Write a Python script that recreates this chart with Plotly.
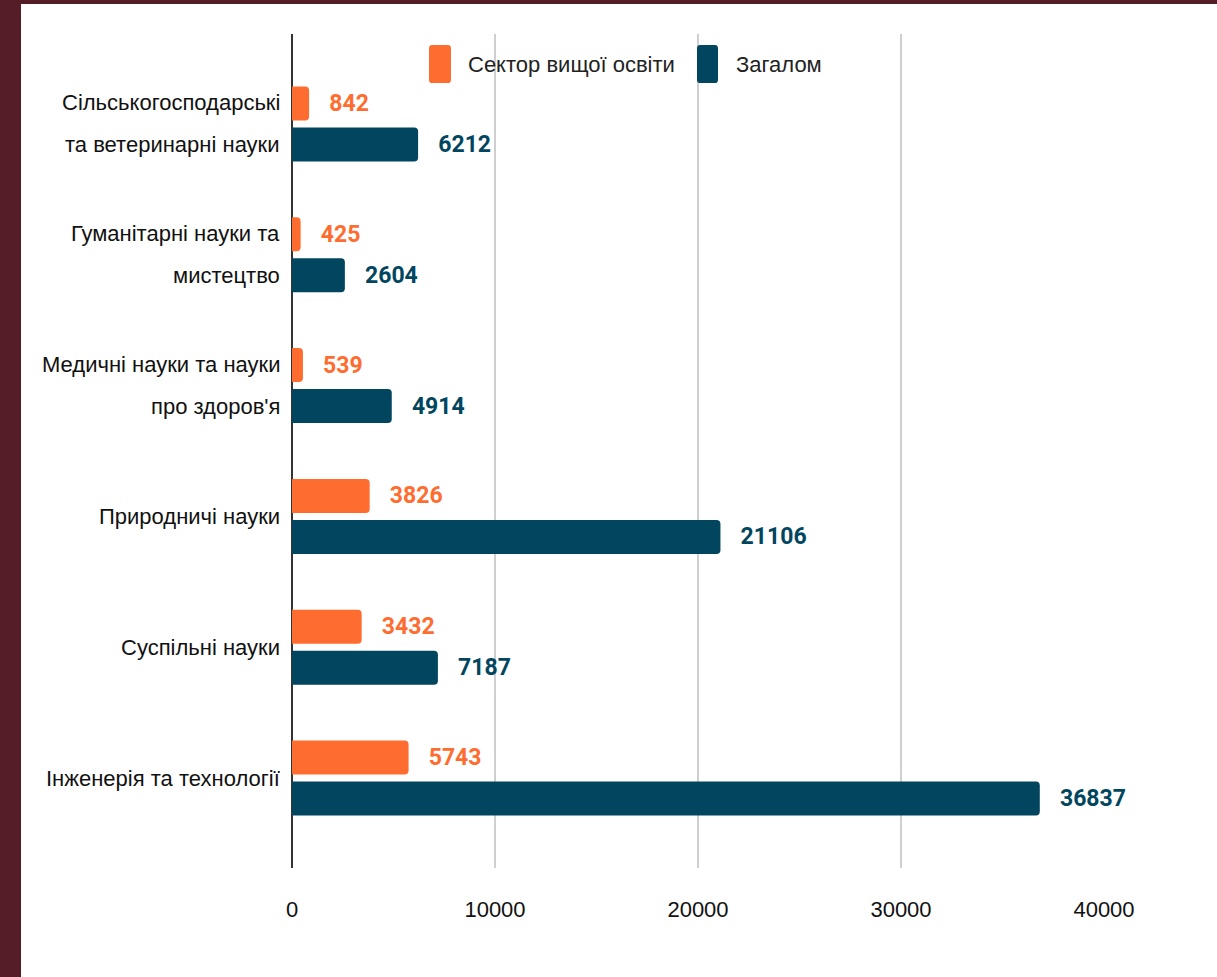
import plotly.graph_objects as go

categories = [
    "Сільськогосподарські<br>та ветеринарні науки",
    "Гуманітарні науки та<br>мистецтво",
    "Медичні науки та науки<br>про здоров'я",
    "Природничі науки",
    "Суспільні науки",
    "Інженерія та технології",
]
series_names = ["Сектор вищої освіти", "Загалом"]
higher_ed = [842, 425, 539, 3826, 3432, 5743]
total = [6212, 2604, 4914, 21106, 7187, 36837]
x_ticks = [0, 10000, 20000, 30000, 40000]

ORANGE = "#FF6C2F"
NAVY = "#01465E"
FONT = "Liberation Sans, Arial, sans-serif"
VFONT = "Roboto, Liberation Sans, sans-serif"

W, H = 1217, 977
L, R, T, B = 292, 1104, 34, 868
pw, ph = R - L, B - T
LINE_GAP = 42

def px(xp):
    return (xp - L) / pw

def py(yp):
    return (B - yp) / ph

fig = go.Figure()
for name, vals, col in [(series_names[0], higher_ed, ORANGE), (series_names[1], total, NAVY)]:
    fig.add_trace(go.Bar(
        y=categories, x=vals, orientation="h", name=name,
        marker=dict(color=col, line=dict(width=0)),
        text=[str(v) for v in vals], texttemplate="\u00a0\u00a0\u00a0%{text}", textposition="outside",
        textfont=dict(family=VFONT, size=23, color=col, weight="bold"),
        cliponaxis=False, showlegend=False,
    ))

shapes = [
    dict(type="rect", xref="paper", yref="paper", x0=px(21), x1=px(1217 + 5),
         y0=py(977 + 5), y1=py(4), fillcolor="white", line=dict(width=0), layer="below"),
]
annotations = []
legend_items = [(series_names[0], ORANGE, 429, 451, 466), (series_names[1], NAVY, 697, 718, 734)]
for name, col, s0, s1, tx in legend_items:
    shapes.append(dict(type="path", xref="paper", yref="paper",
                       path=(f"M {px(s0)},{py(83)+0.004} L {px(s0)},{py(45)-0.004} "
                             f"Q {px(s0)},{py(45)} {px(s0)+0.004},{py(45)} L {px(s1)-0.004},{py(45)} "
                             f"Q {px(s1)},{py(45)} {px(s1)},{py(45)-0.004} L {px(s1)},{py(83)+0.004} "
                             f"Q {px(s1)},{py(83)} {px(s1)-0.004},{py(83)} L {px(s0)+0.004},{py(83)} "
                             f"Q {px(s0)},{py(83)} {px(s0)},{py(83)+0.004} Z"),
                       fillcolor=col, line=dict(width=0)))
    annotations.append(dict(text=name, xref="paper", yref="paper", x=px(tx), y=py(64),
                            xanchor="left", yanchor="middle", showarrow=False,
                            font=dict(family=FONT, size=22, color="#222222")))

# category labels as separate lines (wider line spacing than tick labels allow)
for cat in categories:
    lines = cat.split("<br>")
    n = len(lines)
    for i, line in enumerate(lines):
        annotations.append(dict(text=line, xref="paper", yref="y", x=px(282), y=cat,
                                yshift=-(i - (n - 1) / 2) * LINE_GAP,
                                xanchor="right", yanchor="middle", showarrow=False,
                                font=dict(family=FONT, size=22, color="#111111")))

fig.update_layout(
    width=W, height=H,
    margin=dict(l=L, r=W - R, t=T, b=H - B, pad=0),
    paper_bgcolor="#541d27", plot_bgcolor="rgba(0,0,0,0)",
    barmode="group", bargap=0.373, bargroupgap=0.17, barcornerradius=4,
    shapes=shapes, annotations=annotations,
    xaxis=dict(range=[0, 40000], tickvals=x_ticks, ticktext=[str(v) for v in x_ticks],
               showgrid=True, gridcolor="#cfcfcf", gridwidth=1.5,
               zeroline=True, zerolinecolor="#333333", zerolinewidth=1.5,
               ticks="outside", ticklen=22, tickcolor="rgba(0,0,0,0)", automargin=False,
               tickfont=dict(family=FONT, size=22, color="#111111"), showline=False),
    yaxis=dict(type="category", categoryorder="array", categoryarray=categories,
               range=[5.688, -0.688], showgrid=False, showline=False, zeroline=False,
               showticklabels=False, automargin=False),
    font=dict(family=FONT),
)
fig.write_html("out.html", config={"displayModeBar": False},
               post_script="document.body.style.margin='0px';document.body.style.background='#541d27';")
